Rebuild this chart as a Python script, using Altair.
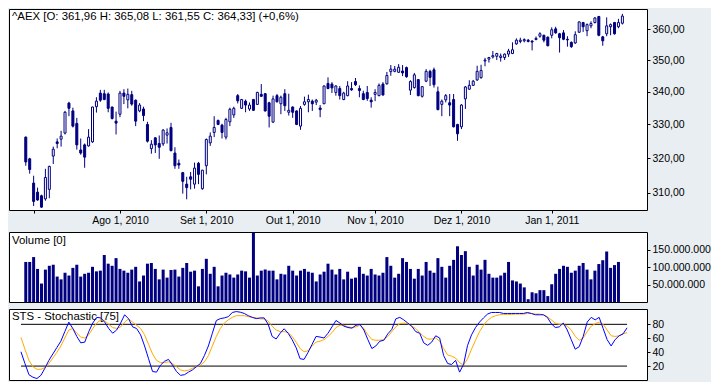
import altair as alt
import pandas as pd

title_text = "^AEX [O: 361,96  H: 365,08  L: 361,55  C: 364,33] (+0,6%)"
volume_label = "Volume [0]"
sts_label = "STS - Stochastic [75]"

opens = [326.2, 319.8, 312.8, 310.2, 309.2, 308.3, 311.0, 320.6, 324.8, 325.6,
         327.4, 336.5, 334.1, 330.3, 322.4, 323.9, 323.6, 324.8, 335.4, 339.6,
         339.4, 339.3, 335.3, 331.0, 333.1, 339.6, 337.5, 339.1, 337.4, 334.1,
         334.7, 330.0, 322.8, 326.0, 324.3, 324.2, 326.8, 329.1, 321.5, 318.5,
         315.8, 312.5, 314.6, 312.5, 318.5, 311.2, 317.8, 324.5, 327.6, 331.2,
         329.8, 326.2, 330.8, 332.9, 338.8, 334.9, 337.1, 334.7, 337.6, 336.1,
         339.2, 339.4, 336.6, 330.7, 338.8, 336.3, 339.4, 333.7, 335.3, 334.1,
         329.5, 336.1, 336.9, 337.1, 336.8, 335.0, 336.3, 342.6, 342.4, 339.8,
         341.0, 337.6, 338.8, 341.0, 343.2, 341.0, 339.4, 339.8, 337.4, 339.2,
         338.8, 342.4, 342.5, 346.3, 346.4, 346.1, 346.5, 347.6, 340.5, 341.3,
         343.8, 338.6, 343.3, 346.4, 346.9, 340.0, 336.1, 337.5, 336.6, 337.6,
         330.0, 329.3, 337.8, 340.8, 342.0, 343.7, 344.4, 349.7, 350.3, 351.0,
         351.2, 350.8, 350.8, 351.9, 352.1, 355.2, 356.0, 356.2, 356.4, 356.1,
         356.6, 357.7, 358.0, 357.4, 358.0, 360.1, 358.5, 358.8, 356.7, 355.7,
         355.5, 359.0, 362.2, 359.5, 361.1, 362.2, 364.2, 357.5, 358.5, 360.8,
         362.2, 360.8, 361.96]
highs = [326.4, 320.1, 314.9, 311.5, 309.5, 316.9, 317.8, 323.4, 325.8, 328.1,
         334.1, 336.9, 335.1, 332.0, 325.8, 324.3, 328.6, 335.4, 338.3, 340.6,
         340.6, 339.8, 335.4, 333.9, 340.3, 340.8, 341.0, 340.3, 337.6, 336.5,
         335.4, 330.8, 325.3, 326.2, 326.7, 328.6, 328.8, 330.5, 323.2, 319.6,
         316.0, 314.6, 316.0, 318.7, 318.9, 316.6, 325.8, 327.6, 332.5, 331.5,
         330.2, 332.0, 335.1, 335.4, 339.3, 337.8, 337.6, 336.7, 337.8, 340.0,
         342.4, 339.6, 336.9, 338.8, 339.3, 338.8, 340.8, 339.4, 335.5, 334.3,
         335.6, 338.5, 339.1, 337.6, 337.8, 335.9, 342.0, 344.5, 343.0, 342.0,
         341.8, 340.0, 343.3, 343.0, 344.3, 342.0, 340.3, 341.8, 338.3, 340.8,
         342.6, 343.0, 346.2, 348.4, 348.1, 348.7, 348.4, 347.9, 343.6, 345.9,
         344.0, 341.8, 347.1, 346.9, 347.6, 341.6, 337.6, 339.3, 339.3, 339.3,
         330.2, 336.2, 341.8, 343.6, 343.7, 348.2, 348.5, 350.7, 351.0, 352.9,
         352.3, 352.1, 352.1, 353.6, 355.7, 357.0, 357.2, 357.0, 356.8, 356.4,
         357.6, 359.0, 358.2, 357.6, 360.6, 360.8, 358.8, 359.7, 357.7, 356.0,
         359.3, 362.6, 362.4, 361.9, 362.6, 364.0, 364.4, 357.8, 363.9, 361.9,
         362.4, 363.4, 365.08]
lows = [317.8, 315.5, 306.3, 307.8, 305.8, 307.8, 308.5, 318.3, 322.9, 323.4,
        327.0, 332.5, 329.1, 322.5, 321.0, 317.2, 323.4, 324.5, 333.6, 336.9,
        337.4, 333.7, 331.5, 327.0, 332.2, 336.2, 334.9, 335.7, 329.5, 333.7,
        331.0, 324.6, 321.3, 321.5, 319.8, 323.6, 324.3, 322.0, 316.9, 316.9,
        309.8, 308.2, 311.0, 311.2, 312.5, 310.9, 315.3, 323.6, 326.2, 329.8,
        325.8, 325.5, 329.5, 332.0, 336.4, 334.7, 333.7, 334.1, 334.1, 335.9,
        338.4, 333.9, 329.1, 330.5, 336.7, 333.1, 334.1, 332.7, 332.0, 329.8,
        328.4, 335.7, 333.7, 334.1, 335.9, 332.2, 336.2, 340.8, 339.6, 338.8,
        337.6, 337.4, 338.6, 340.3, 341.8, 338.3, 337.4, 337.2, 335.1, 337.1,
        338.6, 338.8, 342.2, 345.0, 346.1, 345.9, 344.9, 344.4, 339.0, 341.0,
        338.6, 338.2, 343.0, 341.8, 341.3, 334.3, 332.5, 336.7, 332.5, 329.1,
        325.1, 328.6, 334.7, 340.6, 341.8, 343.4, 344.1, 348.0, 349.2, 350.5,
        350.0, 349.5, 350.0, 351.0, 351.9, 354.9, 355.4, 355.7, 355.7, 353.1,
        356.4, 357.2, 355.7, 354.4, 357.0, 358.5, 352.4, 356.4, 354.3, 353.9,
        355.2, 358.8, 359.1, 357.7, 360.3, 361.9, 357.7, 354.6, 357.7, 358.0,
        358.2, 360.3, 361.55]
closes = [318.9, 316.7, 307.6, 308.0, 306.0, 314.4, 317.6, 322.6, 324.3, 326.5,
          333.7, 334.9, 329.5, 323.9, 321.5, 320.3, 326.2, 335.3, 337.1, 337.4,
          337.6, 334.9, 331.8, 330.4, 339.6, 338.6, 339.2, 336.2, 331.0, 335.9,
          332.7, 325.0, 324.1, 323.9, 323.2, 328.3, 327.5, 322.2, 317.8, 318.0,
          313.3, 311.5, 313.9, 317.1, 315.3, 316.5, 325.5, 326.5, 329.1, 330.0,
          327.6, 331.5, 334.6, 334.9, 337.2, 337.6, 335.9, 335.9, 334.3, 339.8,
          338.6, 334.1, 332.5, 337.8, 336.9, 338.3, 335.7, 334.3, 333.7, 330.0,
          334.9, 336.9, 337.6, 336.3, 337.4, 334.5, 341.8, 341.0, 341.2, 341.8,
          338.8, 339.6, 341.8, 340.6, 342.2, 340.4, 337.6, 337.9, 336.9, 339.8,
          342.0, 339.0, 345.1, 347.1, 347.1, 347.7, 345.9, 344.7, 343.2, 345.3,
          338.8, 341.6, 346.4, 344.5, 342.2, 334.5, 337.1, 338.8, 335.9, 329.3,
          327.2, 335.9, 341.5, 342.0, 343.3, 346.4, 346.7, 350.0, 350.8, 351.4,
          352.1, 351.3, 351.9, 352.9, 353.3, 356.4, 356.4, 356.6, 356.0, 355.8,
          357.0, 358.5, 356.4, 354.6, 359.8, 358.8, 357.2, 356.7, 356.5, 354.3,
          358.2, 362.4, 360.8, 361.5, 361.9, 363.7, 358.0, 356.2, 361.1, 361.5,
          358.5, 362.2, 364.33]
# volume in millions
volumes_m = [115, 115, 129, 95, 53, 93, 104, 107, 73, 65,
             84, 76, 98, 107, 73, 81, 84, 101, 88, 90,
             135, 110, 104, 126, 95, 90, 84, 93, 101, 59,
             76, 110, 112, 95, 65, 93, 70, 92, 93, 73,
             98, 112, 87, 90, 45, 95, 124, 81, 101, 45,
             76, 84, 79, 70, 79, 90, 88, 70, 199, 76,
             90, 93, 90, 90, 65, 81, 79, 104, 90, 76,
             90, 95, 87, 84, 59, 79, 87, 110, 93, 79,
             95, 65, 87, 67, 70, 101, 81, 76, 95, 79,
             76, 84, 129, 104, 70, 81, 126, 115, 95, 67,
             95, 76, 115, 90, 84, 126, 101, 70, 104, 121,
             160, 135, 146, 101, 76, 107, 93, 121, 81, 70,
             70, 76, 84, 115, 62, 59, 53, 42, 8, 28,
             25, 34, 34, 17, 51, 81, 95, 104, 101, 84,
             90, 104, 112, 93, 65, 90, 109, 120, 145, 98,
             106, 115, 0]
stoch_k = [40.6, 23.7, 7.6, 4.0, 2.1, 6.7, 16.8, 28.2, 37.4, 46.6,
           55.7, 69.5, 83.2, 74.0, 62.6, 53.4, 54.4, 69.5, 81.8, 90.0,
           89.2, 83.2, 74.0, 67.2, 71.8, 81.8, 93.7, 87.8, 76.3, 74.0,
           64.9, 48.9, 30.5, 12.2, 11.3, 21.4, 26.9, 29.6, 21.4, 12.2,
           6.7, 7.6, 11.3, 14.5, 19.1, 23.7, 35.1, 48.9, 67.2, 85.5,
           88.2, 89.2, 91.0, 97.0, 98.3, 97.4, 95.6, 92.4, 90.0, 88.2,
           89.2, 89.2, 80.0, 62.6, 58.9, 67.2, 73.6, 67.2, 58.0, 46.6,
           30.5, 29.6, 39.7, 51.1, 62.6, 61.7, 60.3, 67.2, 76.3, 85.5,
           81.8, 77.3, 75.4, 74.5, 78.6, 80.0, 71.8, 58.0, 45.2, 48.9,
           55.7, 57.1, 66.3, 72.7, 87.8, 90.0, 86.4, 81.8, 77.3, 69.5,
           67.2, 53.4, 49.8, 54.4, 63.5, 60.3, 35.1, 23.7, 22.3, 28.2,
           11.3, 22.3, 49.8, 64.9, 75.4, 83.2, 89.2, 94.7, 97.0, 97.0,
           97.0, 95.6, 95.6, 95.6, 95.6, 95.6, 95.6, 97.0, 95.6, 93.7,
           93.7, 93.7, 90.0, 80.9, 75.4, 76.3, 81.8, 71.8, 58.0, 44.3,
           47.9, 62.6, 83.2, 90.0, 86.4, 90.0, 74.0, 58.0, 48.9, 58.0,
           63.5, 66.3, 75.0]
stoch_d = [61.2, 44.3, 28.2, 19.1, 15.4, 15.4, 17.7, 23.7, 31.5, 39.7,
           48.9, 60.3, 71.8, 74.0, 67.2, 61.7, 60.3, 64.9, 74.0, 81.8,
           86.4, 85.5, 80.0, 75.4, 74.0, 76.3, 83.2, 87.8, 83.2, 78.6,
           74.0, 64.9, 51.1, 37.4, 28.2, 25.0, 25.0, 26.0, 23.7, 19.1,
           14.5, 13.1, 14.0, 16.8, 19.1, 21.4, 26.0, 35.1, 48.9, 62.6,
           74.0, 81.8, 86.4, 90.0, 92.4, 92.4, 92.4, 91.0, 90.0, 89.2,
           87.8, 87.8, 84.6, 77.3, 71.8, 69.5, 69.5, 68.1, 62.6, 54.4,
           45.2, 40.6, 42.0, 48.9, 54.4, 55.7, 58.0, 62.6, 68.1, 75.4,
           78.6, 78.6, 76.3, 75.4, 76.3, 78.6, 74.0, 64.9, 58.0, 57.1,
           57.1, 58.0, 62.6, 69.5, 76.3, 80.9, 81.8, 80.9, 77.3, 74.0,
           68.1, 62.6, 58.9, 58.9, 60.3, 55.7, 45.2, 36.0, 34.2, 31.5,
           25.0, 21.4, 30.5, 44.3, 57.1, 69.5, 78.6, 85.5, 90.0, 92.4,
           93.7, 94.2, 94.2, 94.2, 94.7, 94.7, 94.7, 95.6, 95.6, 94.7,
           94.7, 93.7, 91.0, 86.4, 81.8, 80.0, 80.0, 77.3, 71.8, 62.6,
           57.1, 60.3, 69.5, 77.3, 80.9, 83.2, 80.0, 71.8, 63.5, 62.6,
           63.5, 66.3, 68.1]

month_ticks = [2, 24, 46, 68, 89, 111, 134]
month_labels = ["", "Ago 1, 2010", "Set 1, 2010", "Out 1, 2010",
                "Nov 1, 2010", "Dez 1, 2010", "Jan 1, 2011"]
price_ticks = [310, 320, 330, 340, 350, 360]
volume_ticks = [50000000, 100000000, 150000000]
sts_ticks = [20, 40, 60, 80]
sts_levels = [20, 80]

n = len(opens)
df = pd.DataFrame({
    "i": list(range(n)),
    "open": opens, "high": highs, "low": lows, "close": closes,
    "volume": [v * 1e6 for v in volumes_m],
    "k": stoch_k, "d": stoch_d,
})
df["dir"] = ["up" if c >= o else "down" for o, c in zip(opens, closes)]

NAVY = "#000080"
FONT = "Liberation Sans"
W = 638

x_scale = alt.Scale(domain=[-3, 157], nice=False, zero=False)

label_expr = ""
for t, l in zip(month_ticks, month_labels):
    label_expr += f"datum.value == {t} ? '{l}' : "
label_expr += "''"

x_axis = alt.Axis(values=month_ticks, labelExpr=label_expr, orient="bottom",
                  tickSize=3, labelPadding=2, domain=False, grid=False,
                  title=None, labelOverlap=False, labelFlush=False)

price_scale = alt.Scale(type="log", domain=[305.2, 366.7], nice=False)
price_axis = alt.Axis(orient="right", values=price_ticks,
                      labelExpr="replace(format(datum.value, '.2f'), '.', ',')",
                      tickSize=3, labelPadding=2, domain=False, grid=False,
                      title=None)

base = alt.Chart(df).encode(x=alt.X("i:Q", scale=x_scale, axis=x_axis))
wicks = base.mark_rule(color=NAVY, strokeWidth=1).encode(
    y=alt.Y("low:Q", scale=price_scale, axis=price_axis), y2="high:Q")
bodies = base.mark_bar(size=2, stroke=NAVY, strokeWidth=1).encode(
    y=alt.Y("open:Q", scale=price_scale, axis=price_axis), y2="close:Q",
    fill=alt.Fill("dir:N", scale=alt.Scale(domain=["up", "down"], range=["white", NAVY]),
                  legend=None))
title_mark = alt.Chart(pd.DataFrame({"t": [title_text]})).mark_text(
    align="left", baseline="top", font=FONT, fontSize=11.4, color="black"
).encode(x=alt.value(3), y=alt.value(2), text="t:N")
price = alt.layer(wicks, bodies, title_mark).properties(width=W, height=201)

vol_axis = alt.Axis(orient="right", values=volume_ticks,
                    labelExpr="replace(replace(format(datum.value, ','), ',', '.'), ',', '.')",
                    tickSize=3, labelPadding=2, domain=False, grid=False, title=None)
vol_bars = alt.Chart(df).mark_bar(size=3, color=NAVY).encode(
    x=alt.X("i:Q", scale=x_scale, axis=None),
    y=alt.Y("volume:Q", scale=alt.Scale(domain=[0, 201000000], nice=False), axis=vol_axis))
vol_text = alt.Chart(pd.DataFrame({"t": [volume_label]})).mark_text(
    align="left", baseline="top", font=FONT, fontSize=11.4, color="black"
).encode(x=alt.value(3), y=alt.value(3), text="t:N")
volume = alt.layer(vol_bars, vol_text).properties(width=W, height=70)

sts_scale = alt.Scale(domain=[0, 102], nice=False)
sts_axis = alt.Axis(orient="right", values=sts_ticks, tickSize=3, labelPadding=2,
                    domain=False, grid=False, title=None)
sts_base = alt.Chart(df).encode(x=alt.X("i:Q", scale=x_scale, axis=None))
sts_text = alt.Chart(pd.DataFrame({"t": [sts_label]})).mark_text(
    align="left", baseline="top", font=FONT, fontSize=11.4, color="black"
).encode(x=alt.value(3), y=alt.value(2), text="t:N")
levels = alt.Chart(pd.DataFrame({"lvl": sts_levels, "x0": [0, 0], "x1": [n - 1, n - 1]})).mark_rule(
    color="black", strokeWidth=1).encode(
    x=alt.X("x0:Q", scale=x_scale, axis=None), x2="x1:Q",
    y=alt.Y("lvl:Q", scale=sts_scale, axis=sts_axis))
d_line = sts_base.mark_line(color="#ffaa00", strokeWidth=1).encode(
    y=alt.Y("d:Q", scale=sts_scale, axis=sts_axis))
k_line = sts_base.mark_line(color="#0000ff", strokeWidth=1).encode(
    y=alt.Y("k:Q", scale=sts_scale, axis=sts_axis))
sts = alt.layer(sts_text, levels, d_line, k_line).properties(width=W, height=71)

chart = alt.vconcat(price, volume, sts, spacing=5).properties(
    padding={"left": 0, "top": 0, "right": 0, "bottom": 0}
).configure(background="#e9eef2", font=FONT).configure_view(
    fill="white", stroke="black", strokeWidth=1
).configure_axis(labelFont=FONT, labelFontSize=10.5, labelColor="black",
                 tickColor="black", tickWidth=1)

chart.save("out.html", embed_options={"renderer": "svg", "actions": False})
